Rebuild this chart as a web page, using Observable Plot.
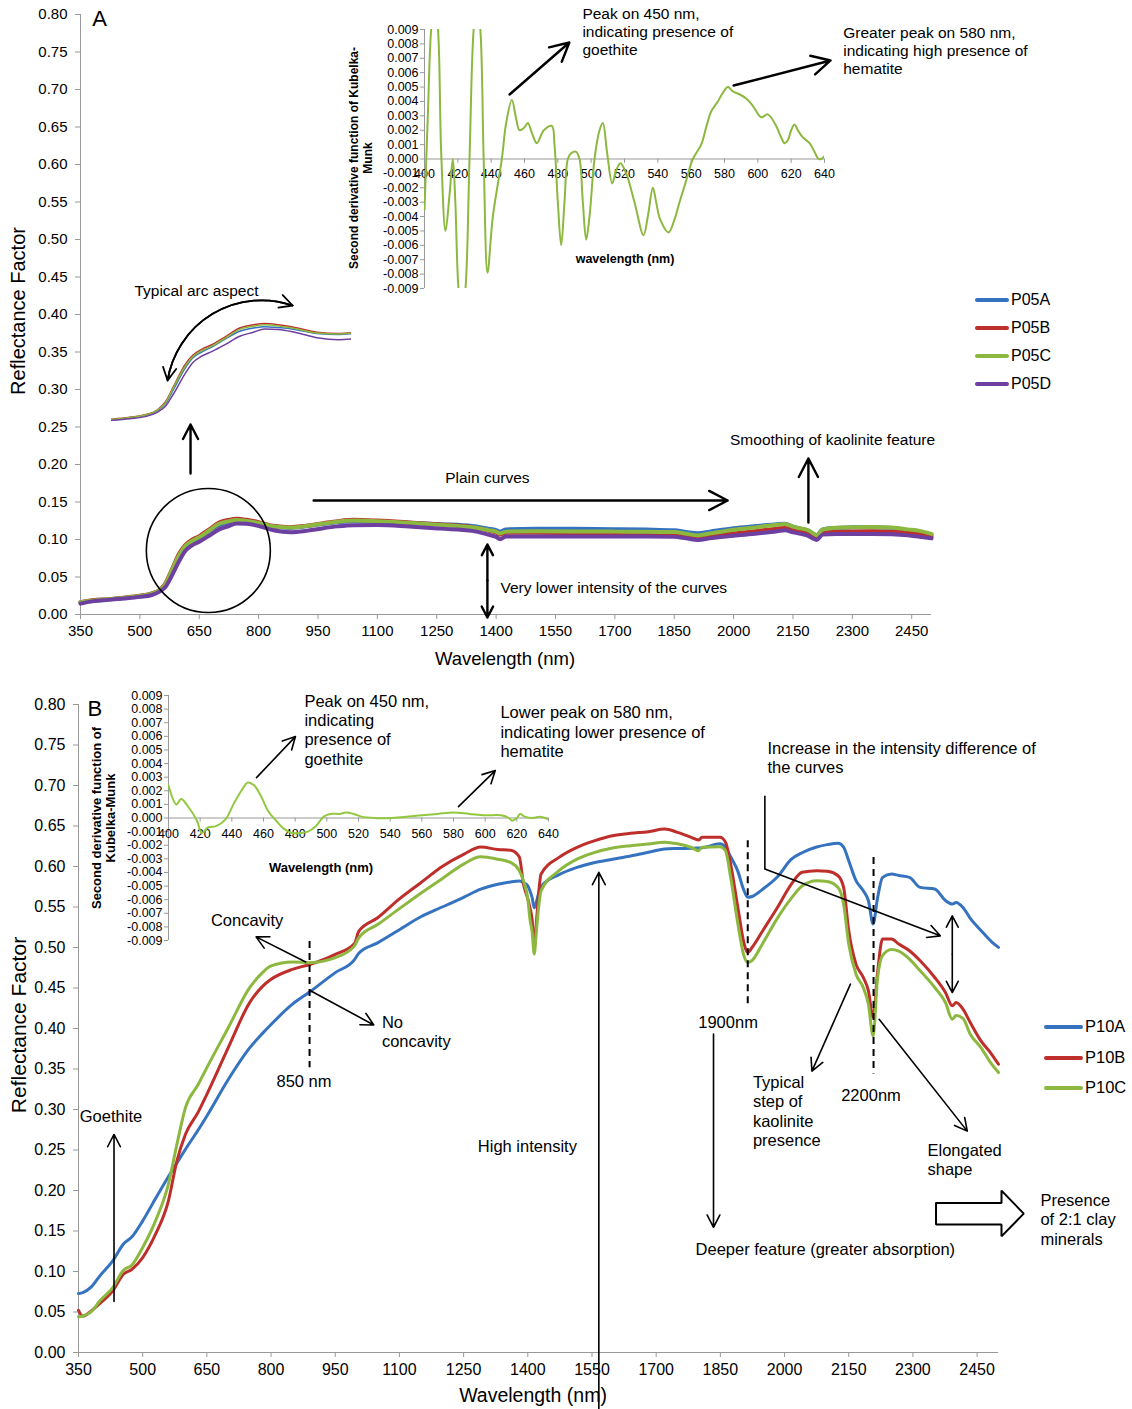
<!DOCTYPE html>
<html><head><meta charset="utf-8">
<script src="https://cdn.jsdelivr.net/npm/d3@7"></script>
<script src="https://cdn.jsdelivr.net/npm/@observablehq/plot@0.6"></script>
<style>
body{margin:0;background:#fff;}
#fig{position:relative;width:1132px;height:1409px;background:#fff;font-family:"Liberation Sans",Arial,Helvetica,sans-serif;overflow:hidden;}
.t{position:absolute;white-space:nowrap;color:#000;line-height:1;}
</style></head><body><div id="fig"></div><script>
// ---------------- DATA ----------------
const xTicks = [350,500,650,800,950,1100,1250,1400,1550,1700,1850,2000,2150,2300,2450];
const yTicks = [0,0.05,0.10,0.15,0.20,0.25,0.30,0.35,0.40,0.45,0.50,0.55,0.60,0.65,0.70,0.75,0.80];
const kmYTicks = [-0.009,-0.008,-0.007,-0.006,-0.005,-0.004,-0.003,-0.002,-0.001,0,0.001,0.002,0.003,0.004,0.005,0.006,0.007,0.008,0.009];
const kmXTicks = [400,420,440,460,480,500,520,540,560,580,600,620,640];

const seriesA = ["P05A","P05B","P05C","P05D"];
const seriesB = ["P10A","P10B","P10C"];

const wlA = [350,380,420,460,500,530,550,565,580,600,615,630,650,675,700,725,745,770,800,840,880,920,960,1000,1040,1100,1180,1260,1340,1380,1400,1410,1425,1500,1600,1700,1780,1850,1880,1910,1940,2000,2060,2110,2130,2150,2170,2190,2200,2210,2225,2260,2300,2350,2400,2440,2470,2500];
const P05A = [0.016,0.018,0.020,0.022,0.0245,0.0275,0.032,0.040,0.056,0.078,0.090,0.096,0.102,0.111,0.119,0.1225,0.124,0.123,0.121,0.1165,0.1155,0.1175,0.1205,0.123,0.1245,0.124,0.1225,0.1205,0.118,0.1145,0.1125,0.1105,0.1135,0.1142,0.1142,0.1138,0.1132,0.1122,0.110,0.1082,0.1105,0.115,0.118,0.1205,0.121,0.117,0.1145,0.1115,0.108,0.106,0.1135,0.1155,0.1162,0.1165,0.1155,0.1125,0.110,0.1065];
const P05B = [0.0165,0.019,0.0205,0.0225,0.025,0.028,0.033,0.042,0.059,0.082,0.093,0.099,0.1045,0.1135,0.1225,0.1262,0.1276,0.1262,0.1232,0.118,0.1165,0.1185,0.1215,0.1245,0.1262,0.1252,0.1228,0.12,0.1165,0.112,0.109,0.1065,0.109,0.109,0.1085,0.108,0.108,0.1075,0.105,0.1025,0.1045,0.108,0.1115,0.1145,0.1155,0.112,0.11,0.107,0.1045,0.101,0.108,0.1105,0.1108,0.111,0.1105,0.109,0.107,0.104];
const P05C = [0.0165,0.0185,0.0203,0.0222,0.0248,0.0278,0.0325,0.041,0.058,0.080,0.0915,0.0975,0.103,0.112,0.121,0.1245,0.126,0.1248,0.122,0.1172,0.116,0.118,0.121,0.1238,0.1252,0.1245,0.1222,0.1195,0.1162,0.1125,0.1105,0.108,0.1105,0.111,0.1108,0.1105,0.1102,0.11,0.1078,0.1055,0.108,0.113,0.1165,0.1198,0.1208,0.1172,0.1148,0.112,0.1085,0.1055,0.1135,0.1158,0.1165,0.1168,0.116,0.1135,0.1115,0.1075];
const P05D = [0.0145,0.0175,0.0195,0.0213,0.0235,0.026,0.0305,0.037,0.051,0.072,0.085,0.0915,0.097,0.105,0.1135,0.118,0.1215,0.121,0.118,0.112,0.1098,0.1115,0.1148,0.1175,0.119,0.1192,0.1172,0.1145,0.1115,0.1065,0.1035,0.1005,0.104,0.104,0.104,0.104,0.104,0.1035,0.1015,0.0995,0.1015,0.105,0.108,0.111,0.1125,0.1095,0.1075,0.1045,0.1015,0.0995,0.1065,0.1075,0.1075,0.1075,0.107,0.1055,0.1035,0.1015];

const wlB = [350,360,380,400,430,455,475,500,530,560,580,600,630,650,700,750,780,800,850,890,950,995,1005,1050,1100,1150,1200,1250,1290,1330,1360,1380,1390,1400,1405,1410,1415,1420,1425,1431,1473,1515,1557,1598,1640,1682,1720,1750,1782,1799,1807,1849,1862,1874,1891,1904,1914,1924,1949,1983,2016,2041,2075,2100,2125,2138,2150,2167,2184,2196,2207,2217,2229,2250,2267,2292,2317,2351,2376,2392,2401,2417,2434,2459,2484,2500];
const P10A = [0.0728,0.074,0.081,0.0946,0.113,0.134,0.143,0.1625,0.19,0.217,0.234,0.251,0.275,0.292,0.337,0.376,0.394,0.405,0.43,0.445,0.469,0.485,0.493,0.506,0.522,0.538,0.55,0.562,0.572,0.578,0.581,0.582,0.58,0.576,0.57,0.562,0.549,0.556,0.566,0.575,0.59,0.599,0.605,0.609,0.613,0.6175,0.6216,0.6222,0.6225,0.6228,0.623,0.628,0.6237,0.612,0.594,0.572,0.5619,0.563,0.572,0.587,0.609,0.617,0.624,0.627,0.6286,0.624,0.607,0.5825,0.570,0.5577,0.529,0.56,0.5866,0.5907,0.589,0.5866,0.5742,0.5722,0.558,0.5536,0.5557,0.5495,0.536,0.521,0.507,0.5001];
const P10B = [0.052,0.045,0.0514,0.0605,0.0761,0.0967,0.1028,0.1172,0.146,0.187,0.2365,0.2694,0.297,0.3188,0.3764,0.432,0.452,0.4607,0.473,0.479,0.4916,0.505,0.52,0.537,0.56,0.58,0.60,0.615,0.624,0.621,0.62,0.612,0.578,0.56,0.549,0.535,0.502,0.53,0.565,0.5907,0.6113,0.6237,0.632,0.638,0.641,0.643,0.6463,0.6422,0.636,0.6327,0.636,0.636,0.6299,0.603,0.549,0.5083,0.4939,0.5,0.5207,0.549,0.5783,0.5928,0.5948,0.594,0.5886,0.5742,0.5207,0.4795,0.463,0.4465,0.4136,0.4671,0.5104,0.5104,0.5042,0.496,0.4836,0.463,0.4445,0.428,0.4321,0.4239,0.4074,0.3847,0.3682,0.3559];
const P10C = [0.044,0.045,0.0505,0.0638,0.0802,0.1016,0.108,0.1296,0.1625,0.2077,0.257,0.3023,0.3311,0.3517,0.401,0.4504,0.469,0.4772,0.4821,0.4813,0.4875,0.502,0.512,0.5286,0.548,0.567,0.585,0.603,0.612,0.609,0.605,0.595,0.582,0.56,0.535,0.52,0.492,0.52,0.548,0.570,0.5948,0.609,0.6175,0.6228,0.6257,0.6278,0.630,0.628,0.6235,0.6195,0.6237,0.6245,0.6195,0.5866,0.529,0.4918,0.4815,0.484,0.505,0.536,0.561,0.576,0.5825,0.5816,0.5742,0.5536,0.5042,0.4671,0.4506,0.43,0.3909,0.46,0.49,0.4975,0.4955,0.4857,0.4713,0.4506,0.4321,0.4115,0.416,0.4125,0.393,0.3765,0.3559,0.3456];

// second derivative of Kubelka-Munk (insets)
const kmAwl = [400,402,404,406,408,410,412.6,415,417,418.5,420.4,422.5,424.6,427,429.5,431.5,433.5,435.5,437.8,441,446.4,449,452.4,455,457,460,462,464.5,467.4,471.6,476.4,478,480,482,484,486,488,491,493,495,497,499,502,505,507,509.5,512.6,515,517.6,521,526,531.4,534,537,539,541.4,546.4,550,553,557,561,566,569,572,576,579,582,585,589,593,597,602,606,611,614,616,618,620,622,624,627,631,634,636.4,638,640];
const kmA = [-0.0035,0.003,0.009,0.0108,0.0092,0.0005,-0.005,-0.0025,0.0,-0.003,-0.009,-0.0108,-0.009,0.0,0.009,0.0108,0.009,0.0,-0.0079,-0.004,0.0,0.0025,0.0041,0.0028,0.002,0.0022,0.0025,0.0018,0.0011,0.002,0.0023,0.001,-0.003,-0.006,-0.003,0.0,0.0004,0.0005,0.0,-0.003,-0.0056,-0.004,0.0,0.002,0.0025,0.0005,-0.0017,-0.0008,-0.0003,-0.001,-0.003,-0.0053,-0.004,-0.002,-0.003,-0.0042,-0.0051,-0.0042,-0.003,-0.0015,0.0,0.001,0.0022,0.0033,0.004,0.0046,0.005,0.0047,0.0045,0.0042,0.0037,0.0029,0.0031,0.0023,0.0015,0.0011,0.0013,0.002,0.0024,0.002,0.0015,0.0011,0.0005,0.0,0.0,0.0002];
const kmBwl = [400,405,408,412,418,421,425,430,436,441,446,450,454,458,463,468,473,478,484,488,493,498,502,508,512,517,522,530,540,550,560,570,580,590,600,610,615,617,620,622,625,630,635,640];
const kmB = [0.0024,0.001,0.0014,0.0009,-0.0002,-0.0011,-0.0007,-0.0006,-0.0001,0.001,0.002,0.0026,0.0024,0.0017,0.0005,-0.0002,-0.0008,-0.0011,-0.0011,-0.001,-0.0006,0.0001,0.0003,0.0003,0.0004,0.0003,0.0001,0,0,0.0001,0.0002,0.0003,0.0004,0.0003,0.0002,0.0002,0,-0.0002,0,0.0003,0.0001,0,0.0001,-0.0001];

// ---------------- ANNOTATIONS (data units) ----------------
const textsA = [
  {x:380, y:0.795, t:"A", size:22, a:"start"},
  {x:643, y:0.432, t:"Typical arc aspect", a:"middle"},
  {x:1378, y:0.1827, t:"Plain curves", a:"middle"},
  {x:2250, y:0.2333, t:"Smoothing of kaolinite feature", a:"middle"},
  {x:1411, y:0.036, t:"Very lower intensity of the curves", a:"start"},
  {x:1618, y:0.7773, t:"Peak on 450 nm,\nindicating presence of\ngoethite", a:"start"},
  {x:2277, y:0.752, t:"Greater peak on 580 nm,\nindicating high presence of\nhematite", a:"start"}
];
const arrowsA = [
  {x1:628, y1:0.188, x2:628, y2:0.2533},
  {x1:939, y1:0.152, x2:1985, y2:0.152},
  {x1:2189, y1:0.1227, x2:2189, y2:0.208},
  {x1:1378, y1:0.0453, x2:1378, y2:0.0933},
  {x1:1378, y1:0.0453, x2:1378, y2:-0.004},
  {x1:1434, y1:0.6933, x2:1585, y2:0.7627},
  {x1:2000, y1:0.7053, x2:2245, y2:0.7387}
];
const arcA = [{x1:886, y1:0.412, x2:570, y2:0.312}];
const arcAr = [{x1:570, y1:0.312, x2:886, y2:0.412}];
const circleA = [{x:673, y:0.0853}];

const textsB = [
  {x:371, y:0.7963, t:"B", size:22, a:"start"},
  {x:878, y:0.7691, t:"Peak on 450 nm,\nindicating\npresence of\ngoethite", a:"start"},
  {x:1336, y:0.7666, t:"Lower peak on 580 nm,\nindicating lower presence of\nhematite", a:"start"},
  {x:1960, y:0.7348, t:"Increase in the intensity difference of\nthe curves", a:"start"},
  {x:1868, y:0.408, t:"1900nm", a:"middle"},
  {x:2202, y:0.3178, t:"2200nm", a:"middle"},
  {x:1926, y:0.2986, t:"Typical\nstep of\nkaolinite\npresence", a:"start"},
  {x:2334, y:0.2386, t:"Elongated\nshape", a:"start"},
  {x:2598, y:0.1648, t:"Presence\nof 2:1 clay\nminerals", a:"start"},
  {x:1792, y:0.1282, t:"Deeper feature (greater absorption)", a:"start"},
  {x:1399, y:0.2547, t:"High intensity", a:"middle"},
  {x:353, y:0.2927, t:"Goethite", a:"start"},
  {x:877, y:0.336, t:"850 nm", a:"middle"},
  {x:744, y:0.5342, t:"Concavity", a:"middle"},
  {x:1059, y:0.3969, t:"No\nconcavity", a:"start"}
];
const arrowsB = [
  {x1:766, y1:0.7097, x2:857, y2:0.7604},
  {x1:1238, y1:0.6739, x2:1324, y2:0.7184},
  {x1:1954, y1:0.5968, x2:2364, y2:0.5144},
  {x1:2392, y1:0.4917, x2:2392, y2:0.5391},
  {x1:2392, y1:0.4917, x2:2392, y2:0.4443},
  {x1:881, y1:0.4822, x2:765, y2:0.5131},
  {x1:890, y1:0.4472, x2:1040, y2:0.4044},
  {x1:433, y1:0.0631, x2:433, y2:0.2692},
  {x1:1566, y1:-0.0717, x2:1566, y2:0.5927},
  {x1:1834, y1:0.3933, x2:1834, y2:0.1546},
  {x1:2154, y1:0.4547, x2:2064, y2:0.3474},
  {x1:2221, y1:0.4114, x2:2427, y2:0.2733}
];
const linksB = [{x1:1954, y1:0.6875, x2:1954, y2:0.5968}];
const dashB = [{x:1914, y1:0.6318, y2:0.4278},{x:2208, y1:0.6112, y2:0.3437},{x:890, y1:0.5073, y2:0.3515}];
const blockB = [{x:2354,y:0.1846},{x:2507,y:0.1846},{x:2507,y:0.1999},{x:2559,y:0.1715},{x:2507,y:0.1434},{x:2507,y:0.1579},{x:2354,y:0.1579},{x:2354,y:0.1846}];

// ---------------- BUILD ----------------
const FONT = '"Liberation Sans", Arial, Helvetica, sans-serif';
const colA = {P05A:"#3572BF", P05B:"#BE2F2C", P05C:"#8CB83F", P05D:"#6C3FA0"};
const colB = {P10A:"#3572BF", P10B:"#BE2F2C", P10C:"#8CB83F"};
const tidy = (wl, vals) => wl.map((w,i) => ({wl:w, v:vals[i]}));
const dataA = {P05A:tidy(wlA,P05A), P05B:tidy(wlA,P05B), P05C:tidy(wlA,P05C), P05D:tidy(wlA,P05D)};
const dataB = {P10A:tidy(wlB,P10A), P10B:tidy(wlB,P10B), P10C:tidy(wlB,P10C)};
const fig = document.getElementById("fig");
function place(el, left, top){ el.style.position="absolute"; el.style.left=left+"px"; el.style.top=top+"px"; fig.appendChild(el); }

function textMarks(list, size, lh){
  const out = [];
  for (const a of ["start","middle"]) {
    out.push(Plot.text(list.filter(d => d.a===a), {x:"x", y:"y", text:"t", textAnchor:a, fontSize:d=>d.size||size, lineHeight:lh, fill:"black", fontFamily:FONT}));
  }
  return out;
}
function axes(fs){
  return [
    Plot.ruleX([350], {stroke:"#999"}),
    Plot.ruleY([0], {stroke:"#999"}),
    Plot.axisY({ticks:yTicks, tickFormat:d=>d.toFixed(2), tickSize:5, tickPadding:8, fontSize:fs, stroke:"#999", label:null}),
    Plot.axisX({ticks:xTicks, tickFormat:d=>String(d), tickSize:5, tickPadding:6, fontSize:fs, stroke:"#999", label:null})
  ];
}

// Panel A main
const plotA = Plot.plot({
  width:1132, height:672, marginLeft:80, marginRight:201, marginTop:14, marginBottom:58,
  x:{domain:[350,2500], axis:null}, y:{domain:[0,0.8], axis:null},
  style:{fontFamily:FONT, fontSize:"15px", background:"transparent", overflow:"visible"},
  marks:[
    ...axes(15),
    ...seriesA.map(s => Plot.line(dataA[s], {x:"wl", y:"v", stroke:colA[s], strokeWidth:4, curve:"monotone-x"})),
    Plot.dot(circleA, {x:"x", y:"y", r:62, stroke:"black", strokeWidth:1.6, fill:"none"}),
    Plot.arrow(arrowsA, {x1:"x1", y1:"y1", x2:"x2", y2:"y2", stroke:"black", strokeWidth:2.4, headLength:13, headAngle:55}),
    Plot.arrow(arcA, {x1:"x1", y1:"y1", x2:"x2", y2:"y2", bend:-50, stroke:"black", strokeWidth:1.8, headLength:12, headAngle:55}),
    Plot.arrow(arcAr, {x1:"x1", y1:"y1", x2:"x2", y2:"y2", bend:50, stroke:"black", strokeWidth:1.8, headLength:12, headAngle:55}),
    ...textMarks(textsA, 15.5, 1.16)
  ]
});
place(plotA, 0, 0);

// magnified arc view in panel A
const arcPlot = Plot.plot({
  width:240, height:130, marginLeft:0, marginRight:0, marginTop:0, marginBottom:0,
  x:{domain:[467,903], axis:null}, y:{domain:[0.0106,0.1526], axis:null},
  style:{background:"transparent", overflow:"visible"},
  marks: seriesA.map(s => Plot.line(dataA[s], {x:"wl", y:"v", stroke:colA[s], strokeWidth:1.5, curve:"monotone-x", clip:true}))
});
place(arcPlot, 111, 300);

// insets
function inset(data, color, labelDy, width, height, mL, mT){
  return Plot.plot({
    width, height, marginLeft:mL, marginTop:mT, marginRight:width-mL-380-(width===500?20:0), marginBottom:height-mT-(height===290?259:245),
    x:{domain:[400,640], axis:null}, y:{domain:[-0.009,0.009], axis:null},
    style:{fontFamily:FONT, fontSize:"12.5px", background:"transparent", overflow:"visible"},
    marks:[
      Plot.ruleX([400], {stroke:"#999"}),
      Plot.axisY({ticks:kmYTicks, tickFormat:d=>d.toFixed(3), tickSize:4, tickPadding:2, fontSize:12.5, stroke:"#999", label:null}),
      Plot.ruleY([0], {stroke:"#999"}),
      Plot.ruleX(kmXTicks, {x:d=>d, y1:0, y2:-0.0003, stroke:"#999"}),
      Plot.text(kmXTicks, {x:d=>d, y:0, dy:labelDy, text:d=>String(d), fontSize:12.5, fill:"black"}),
      Plot.line(data, {x:"wl", y:"v", stroke:color, strokeWidth:2, curve:"catmull-rom", clip:true})
    ]
  });
}
const insA = inset(tidy(kmAwl,kmA), "#8CB83F", 14.5, 500, 290, 84, 19);
place(insA, 340, 10);

// Panel B main
const plotB = Plot.plot({
  width:1132, height:737, marginLeft:78, marginRight:134, marginTop:32, marginBottom:57,
  x:{domain:[350,2500], axis:null}, y:{domain:[0,0.8], axis:null},
  style:{fontFamily:FONT, fontSize:"16px", background:"transparent", overflow:"visible"},
  marks:[
    ...axes(16),
    ...seriesB.map(s => Plot.line(dataB[s], {x:"wl", y:"v", stroke:colB[s], strokeWidth:3, curve:"monotone-x"})),
    Plot.ruleX(dashB, {x:"x", y1:"y1", y2:"y2", stroke:"black", strokeWidth:2, strokeDasharray:"7,5"}),
    Plot.link(linksB, {x1:"x1", y1:"y1", x2:"x2", y2:"y2", stroke:"black", strokeWidth:1.6}),
    Plot.arrow(arrowsB, {x1:"x1", y1:"y1", x2:"x2", y2:"y2", stroke:"black", strokeWidth:1.6, headLength:13, headAngle:55}),
    Plot.line(blockB, {x:"x", y:"y", stroke:"black", strokeWidth:2, strokeLinejoin:"miter"}),
    ...textMarks(textsB, 16.5, 1.18)
  ]
});
place(plotB, 0, 672);

const insB = inset(tidy(kmBwl,kmB), "#92C83E", 16, 480, 270, 88, 15);
place(insB, 80, 680);

// ---------------- TITLES & LEGENDS (HTML) ----------------
function label(txt, cx, cy, size, rot, bold, lh){
  const d = document.createElement("div");
  d.className = "t";
  d.innerHTML = txt;
  d.style.fontSize = size + "px";
  if (bold) d.style.fontWeight = "bold";
  d.style.textAlign = "center";
  if (lh) d.style.lineHeight = lh + "px";
  d.style.left = cx + "px"; d.style.top = cy + "px";
  d.style.transform = "translate(-50%,-50%)" + (rot ? " rotate(-90deg)" : "");
  fig.appendChild(d);
}
label("Reflectance Factor", 18, 311, 20, true);
label("Wavelength (nm)", 505, 659, 18.5, false);
label("Reflectance Factor", 18, 1025, 21, true);
label("Wavelength (nm)", 533, 1396, 19.5, false);
label("Second derivative function of Kubelka-<br>Munk", 361, 158, 12, true, true, 13.5);
label("wavelength (nm)", 625, 259, 12.5, false, true);
label("Second derivative function of<br>Kubelka-Munk", 104, 818, 13, true, true, 14);
label("Wavelength (nm)", 321, 867, 13, false, true);

function legend(names, cols, lineL, lineW, textL, tops, fs){
  names.forEach((n,i) => {
    const ln = document.createElement("div");
    ln.style.cssText = `position:absolute;left:${lineL}px;top:${tops[i]-2}px;width:${lineW}px;height:4px;background:${cols[n]};border-radius:2px;`;
    fig.appendChild(ln);
    const t = document.createElement("div");
    t.className = "t"; t.textContent = n; t.style.fontSize = fs + "px";
    t.style.left = textL + "px"; t.style.top = (tops[i] - fs*0.52) + "px";
    fig.appendChild(t);
  });
}
legend(seriesA, colA, 975, 34, 1011, [300,328,356,384], 16);
legend(seriesB, colB, 1044, 39, 1085, [1027,1058,1088], 16.5);
</script></body></html>
